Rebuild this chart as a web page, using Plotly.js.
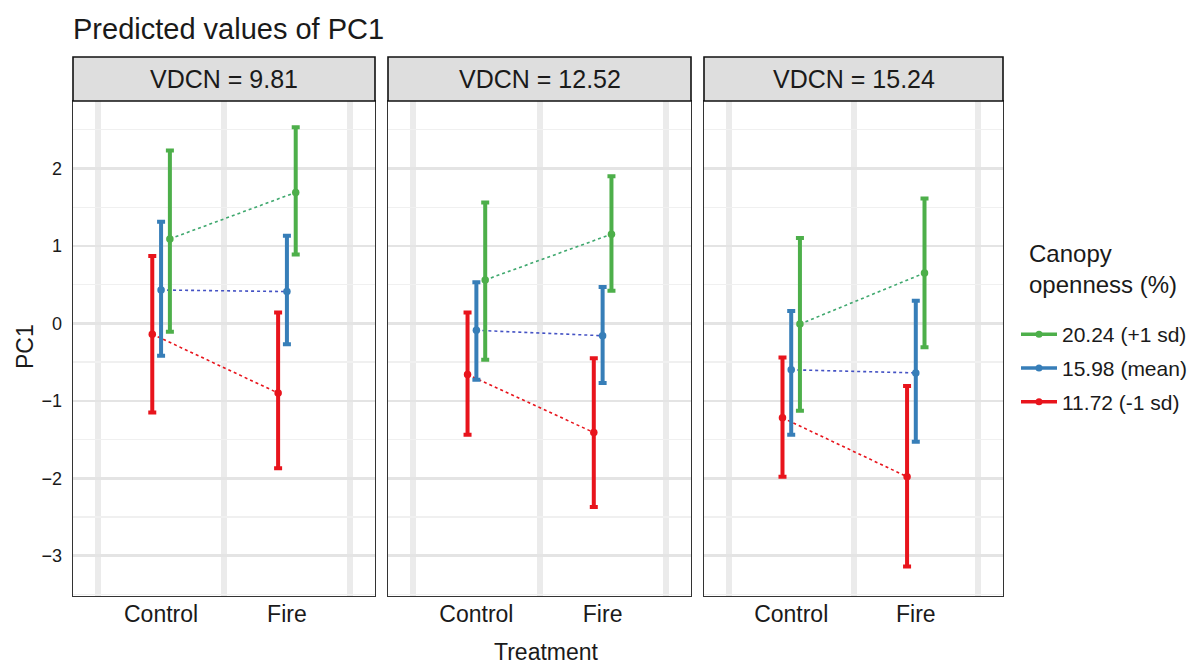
<!DOCTYPE html>
<html>
<head>
<meta charset="utf-8">
<script src="https://cdn.plot.ly/plotly-3.0.1.min.js"></script>
<style>
  html, body { margin: 0; padding: 0; background: #ffffff; }
  #chart { width: 1196px; height: 666px; }
</style>
</head>
<body>
<div id="chart"></div>
<script>
// Treatment levels on the x axis
const treatments = ['Control', 'Fire'];
// Facets (VDCN held at three values)
const panels = ['VDCN = 9.81', 'VDCN = 12.52', 'VDCN = 15.24'];
// Canopy openness groups
const groups = ['20.24 (+1 sd)', '15.98 (mean)', '11.72 (-1 sd)'];
const groupColors = ['#4daf4a', '#377eb8', '#e8141c'];
// Colours of the dotted connecting lines
const linkColors = ['#3fa86e', '#4452c4', '#e8141c'];

// Predicted PC1 per facet: [Control, Fire]
const est_high = [[1.09, 1.69], [0.56, 1.15], [-0.01, 0.65]];
const est_mean = [[0.43, 0.41], [-0.09, -0.16], [-0.60, -0.64]];
const est_low  = [[-0.14, -0.90], [-0.66, -1.41], [-1.22, -1.98]];

// Lower confidence limits
const lo_high = [[-0.11, 0.89], [-0.47, 0.42], [-1.13, -0.31]];
const lo_mean = [[-0.42, -0.27], [-0.73, -0.77], [-1.44, -1.53]];
const lo_low  = [[-1.15, -1.87], [-1.44, -2.37], [-1.98, -3.14]];

// Upper confidence limits
const hi_high = [[2.23, 2.53], [1.56, 1.90], [1.10, 1.61]];
const hi_mean = [[1.31, 1.13], [0.53, 0.47], [0.16, 0.29]];
const hi_low  = [[0.87, 0.14], [0.14, -0.45], [-0.44, -0.81]];

// Y axis ticks
const yTicks = [-3, -2, -1, 0, 1, 2];

const estimates = [est_high, est_mean, est_low];
const lowers = [lo_high, lo_mean, lo_low];
const uppers = [hi_high, hi_mean, hi_low];

const W = 1196, H = 666;
const px = v => v / W;
const py = v => 1 - v / H;

// Panel pixel extents
const panelX = [[73, 375], [388, 691], [704, 1003]];
const plotTop = 101, plotBottom = 596, stripTop = 57;
const dodge = [0.07, 0, -0.07];

const traces = [];
panels.forEach((p, pi) => {
  const ax = pi === 0 ? '' : String(pi + 1);
  // draw red first, green last
  [2, 1, 0].forEach(gi => {
    const est = estimates[gi][pi];
    const lo = lowers[gi][pi];
    const hi = uppers[gi][pi];
    const xs = treatments.map((t, ti) => ti + 1 + dodge[gi]);
    // dotted link between treatments
    traces.push({
      type: 'scatter',
      mode: 'lines',
      x: xs,
      y: est,
      xaxis: 'x' + ax,
      yaxis: 'y' + ax,
      showlegend: false,
      line: { color: linkColors[gi], width: 1.6, dash: 'dot' },
      hoverinfo: 'skip'
    });
    // point estimates with confidence intervals
    traces.push({
      type: 'scatter',
      mode: 'markers',
      x: xs,
      y: est,
      xaxis: 'x' + ax,
      yaxis: 'y' + ax,
      showlegend: false,
      marker: { color: groupColors[gi], size: 7.5 },
      error_y: {
        type: 'data',
        symmetric: false,
        array: est.map((e, i) => hi[i] - e),
        arrayminus: est.map((e, i) => e - lo[i]),
        color: groupColors[gi],
        thickness: 4,
        width: 4
      },
      hoverinfo: 'skip'
    });
  });
});

// Legend entries
groups.forEach((g, gi) => {
  traces.push({
    type: 'scatter',
    mode: 'lines+markers',
    x: [null], y: [null],
    name: g,
    legendgroup: 'g' + gi,
    showlegend: true,
    line: { color: groupColors[gi], width: 3.5 },
    marker: { color: groupColors[gi], size: 7 },
    xaxis: 'x', yaxis: 'y'
  });
});

const layout = {
  width: W, height: H,
  margin: { l: 0, r: 0, t: 0, b: 0 },
  paper_bgcolor: '#ffffff',
  plot_bgcolor: '#ffffff',
  font: { family: 'Liberation Sans, Arial, sans-serif', color: '#1a1a1a' },
  showlegend: true,
  legend: {
    x: px(1016), y: py(314), xanchor: 'left', yanchor: 'top',
    font: { size: 21, color: '#1a1a1a' },
    bgcolor: 'rgba(0,0,0,0)',
    itemwidth: 36,
    tracegroupgap: 3.5,
    traceorder: 'grouped'
  },
  shapes: [],
  annotations: []
};

panels.forEach((p, pi) => {
  const ax = pi === 0 ? '' : String(pi + 1);
  const dom = [px(panelX[pi][0]), px(panelX[pi][1])];
  layout['xaxis' + ax] = {
    domain: dom,
    anchor: 'y' + ax,
    range: [0.3, 2.7],
    tickmode: 'array',
    tickvals: treatments.map((t, i) => i + 1),
    ticktext: treatments,
    showgrid: false,
    zeroline: false,
    ticks: '', ticklabelstandoff: -3,
    tickfont: { size: 23, color: '#1a1a1a' },
    showline: true, mirror: true, linecolor: '#333333', linewidth: 1.4,
    minor: { tickmode: 'array', tickvals: [0.5, 1.5, 2.5], showgrid: true, gridcolor: '#ebebeb', gridwidth: 6, ticks: '' },
    fixedrange: true
  };
  layout['yaxis' + ax] = {
    domain: [py(plotBottom), py(plotTop)],
    anchor: 'x' + ax,
    range: [-3.52, 2.87],
    tickmode: 'array',
    tickvals: yTicks,
    showticklabels: pi === 0,
    showgrid: true, gridcolor: '#e4e4e4', gridwidth: 2.5,
    zeroline: false,
    ticks: 'outside', ticklen: 6, tickcolor: 'rgba(0,0,0,0)',
    tickfont: { size: 18, color: '#1a1a1a' },
    showline: true, mirror: true, linecolor: '#333333', linewidth: 1.4,
    minor: { dtick: 0.5, showgrid: true, gridcolor: '#f0f0f0', gridwidth: 1.2, ticks: '' },
    fixedrange: true
  };
  // facet strip
  layout.shapes.push({
    type: 'rect', xref: 'paper', yref: 'paper',
    x0: dom[0], x1: dom[1], y0: py(plotTop), y1: py(stripTop),
    fillcolor: '#dedede', line: { color: '#111111', width: 1.6 }, layer: 'above'
  });
  layout.annotations.push({
    xref: 'paper', yref: 'paper',
    x: (dom[0] + dom[1]) / 2, y: py((plotTop + stripTop) / 2),
    xanchor: 'center', yanchor: 'middle',
    text: p, showarrow: false,
    font: { size: 25, color: '#1a1a1a' }
  });
});

// Title, axis titles and legend heading
layout.annotations.push({
  xref: 'paper', yref: 'paper', x: px(71), y: py(29),
  xanchor: 'left', yanchor: 'middle', showarrow: false,
  text: 'Predicted values of PC1', font: { size: 29, color: '#1a1a1a' }
});
layout.annotations.push({
  xref: 'paper', yref: 'paper', x: px(546), y: py(652),
  xanchor: 'center', yanchor: 'middle', showarrow: false,
  text: 'Treatment', font: { size: 23, color: '#1a1a1a' }
});
layout.annotations.push({
  xref: 'paper', yref: 'paper', x: px(25), y: py(347),
  xanchor: 'center', yanchor: 'middle', showarrow: false, textangle: -90,
  text: 'PC1', font: { size: 23, color: '#1a1a1a' }
});
layout.annotations.push({
  xref: 'paper', yref: 'paper', x: px(1027), y: py(269),
  xanchor: 'left', yanchor: 'middle', align: 'left', showarrow: false,
  text: 'Canopy<br>openness (%)', font: { size: 24, color: '#1a1a1a' }
});

Plotly.newPlot('chart', traces, layout, { staticPlot: true, displayModeBar: false });
</script>
</body>
</html>
